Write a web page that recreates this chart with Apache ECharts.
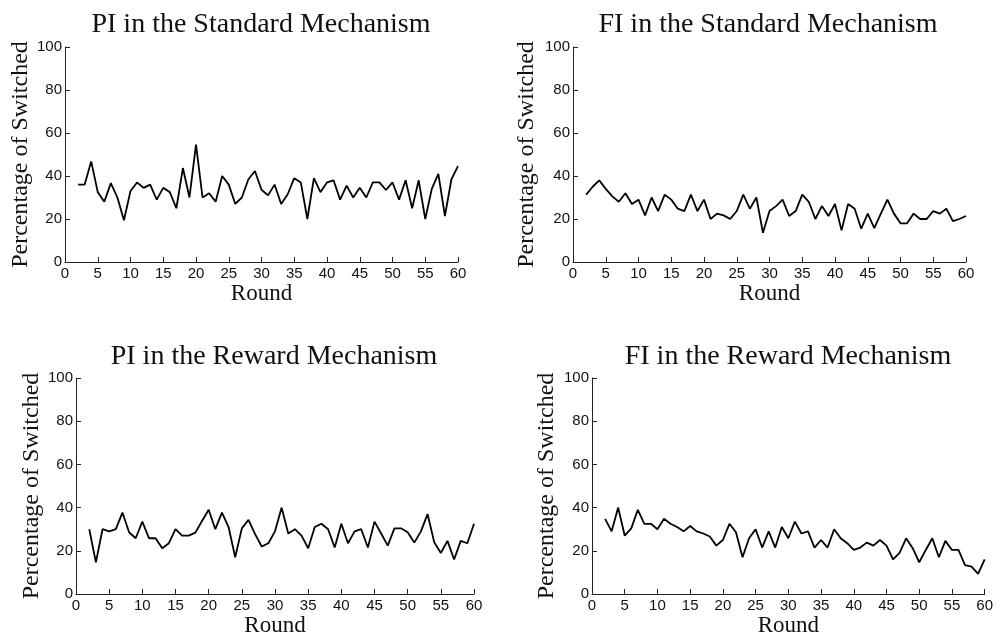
<!DOCTYPE html>
<html lang="en">
<head>
  <meta charset="UTF-8">
  <title>Percentage of Switched by Round</title>
  <script src="https://cdn.jsdelivr.net/npm/echarts@6/dist/echarts.min.js"></script>
  <style>
    html, body { margin: 0; padding: 0; background: #fff; }
    #main { width: 996px; height: 639px; }
  </style>
</head>
<body>
  <div id="main"></div>
  <script>
    // rounds 2..60
    const rounds = [2, 3, 4, 5, 6, 7, 8, 9, 10, 11, 12, 13, 14, 15, 16, 17, 18, 19, 20, 21,
      22, 23, 24, 25, 26, 27, 28, 29, 30, 31, 32, 33, 34, 35, 36, 37, 38, 39, 40, 41,
      42, 43, 44, 45, 46, 47, 48, 49, 50, 51, 52, 53, 54, 55, 56, 57, 58, 59, 60];

    const piStandard = [36, 36, 46.8, 32.5, 28, 36.7, 30, 19.4, 33, 37,
      34.5, 36, 29, 34.5, 32.5, 25, 43.7, 30, 54.6, 30,
      32, 28, 40, 36, 27, 30, 38.5, 42.3, 33.6, 31,
      36, 27, 31.5, 39, 37, 20, 39, 32.5, 37, 38,
      29, 35.5, 30, 34.5, 30, 37, 37, 33.5, 37, 29,
      38, 25, 38, 20, 34, 41, 21.4, 38.5, 44.6];

    const fiStandard = [31.3, 35, 38, 34, 30.5, 28, 32, 27, 29, 21.7,
      30, 23.7, 31.3, 29, 24.8, 23.7, 31.3, 23.7, 29, 20,
      22.5, 21.7, 20, 23.7, 31.3, 24.8, 30, 13.6, 23.7, 26,
      29, 21.4, 23.7, 31.3, 28, 20, 26, 21.4, 27, 14.7,
      27, 24.8, 15.5, 22.5, 15.8, 22.5, 29, 22.5, 18, 18,
      22.5, 20, 20, 23.7, 22.5, 24.8, 19, 20, 21.4];

    const piReward = [30, 14.7, 30, 29, 30, 37.7, 28.6, 25.8, 33.5, 25.8,
      25.8, 21.2, 23.5, 30, 27, 27, 28.4, 33.8, 39, 30,
      37.7, 31, 17, 30.4, 34.3, 27.7, 22, 23.5, 29, 40,
      28, 30, 27, 21.2, 31, 32.5, 30, 21.5, 32.5, 23.5,
      29, 30, 21.5, 33.5, 28, 22.4, 30.4, 30.4, 28.6, 23.8,
      29, 37, 24, 19, 24.6, 16, 24.6, 23.5, 32.5];

    const fiReward = [34.8, 29, 40, 27, 30.4, 39, 32.5, 32.5, 30, 34.8,
      32.5, 31, 29, 31.5, 29, 28, 26.6, 22.4, 25, 32.5,
      28.6, 17, 25.8, 30, 21.5, 29, 21.5, 31, 25.8, 33.5,
      28, 29, 21.5, 25, 21.5, 30, 25.8, 23.5, 20.4, 21.5,
      23.8, 22.4, 25, 22.4, 16, 19, 25.8, 21.2, 14.7, 20.4,
      25.8, 17, 24.6, 20.4, 20.4, 13.4, 12.7, 9.3, 16];

    const panelTitles = ['PI in the Standard Mechanism', 'FI in the Standard Mechanism',
      'PI in the Reward Mechanism', 'FI in the Reward Mechanism'];

    const serif = '"Liberation Serif", "Times New Roman", serif';
    const sans = '"Liberation Sans", Arial, sans-serif';

    // panel layout
    const grids = [
      { left: 65, top: 47, width: 393, height: 215 },
      { left: 573, top: 47, width: 393, height: 215 },
      { left: 76, top: 378, width: 398, height: 216 },
      { left: 592, top: 378, width: 394, height: 216 }
    ];
    const titlePos = [[261, 11], [768, 11], [274, 343], [788, 343]];
    const yNameGap = [31, 34, 31, 33];
    const panelData = [piStandard, fiStandard, piReward, fiReward];

    const axisLine = { lineStyle: { color: '#222', width: 1 } };
    const axisTick = { inside: true, length: 5, lineStyle: { color: '#222', width: 1 } };

    const chart = echarts.init(document.getElementById('main'));
    const option = {
      backgroundColor: '#fff',
      animation: false,
      title: panelTitles.map((t, i) => ({
        text: t,
        left: titlePos[i][0],
        top: titlePos[i][1],
        textAlign: 'center',
        padding: 0,
        textStyle: { fontFamily: serif, fontSize: 28, fontWeight: 'normal', color: '#111' }
      })),
      grid: grids,
      xAxis: grids.map((g, i) => ({
        type: 'value',
        gridIndex: i,
        min: 0,
        max: 60,
        interval: 5,
        name: 'Round',
        nameLocation: 'middle',
        nameGap: 20,
        nameTextStyle: { fontFamily: serif, fontSize: 23, color: '#111' },
        axisLine: axisLine,
        axisTick: axisTick,
        axisLabel: { fontFamily: sans, fontSize: 15, color: '#111', margin: 4 },
        splitLine: { show: false }
      })),
      yAxis: grids.map((g, i) => ({
        type: 'value',
        gridIndex: i,
        min: 0,
        max: 100,
        interval: 20,
        name: 'Percentage of Switched',
        nameLocation: 'middle',
        nameRotate: 90,
        nameGap: yNameGap[i],
        nameTextStyle: { fontFamily: serif, fontSize: 24, color: '#111' },
        axisLine: { show: true, lineStyle: { color: '#222', width: 1 } },
        axisTick: { show: true, inside: true, length: 5, lineStyle: { color: '#222', width: 1 } },
        axisLabel: { fontFamily: sans, fontSize: 15, color: '#111', margin: 3 },
        splitLine: { show: false }
      })),
      series: panelData.map((vals, i) => ({
        type: 'line',
        xAxisIndex: i,
        yAxisIndex: i,
        data: rounds.map((r, k) => [r, vals[k]]),
        showSymbol: false,
        lineStyle: { color: '#000', width: 1.8 }
      }))
    };

    chart.setOption(option);
    window.addEventListener('resize', function () {
      chart.resize();
    });
  </script>
</body>
</html>
